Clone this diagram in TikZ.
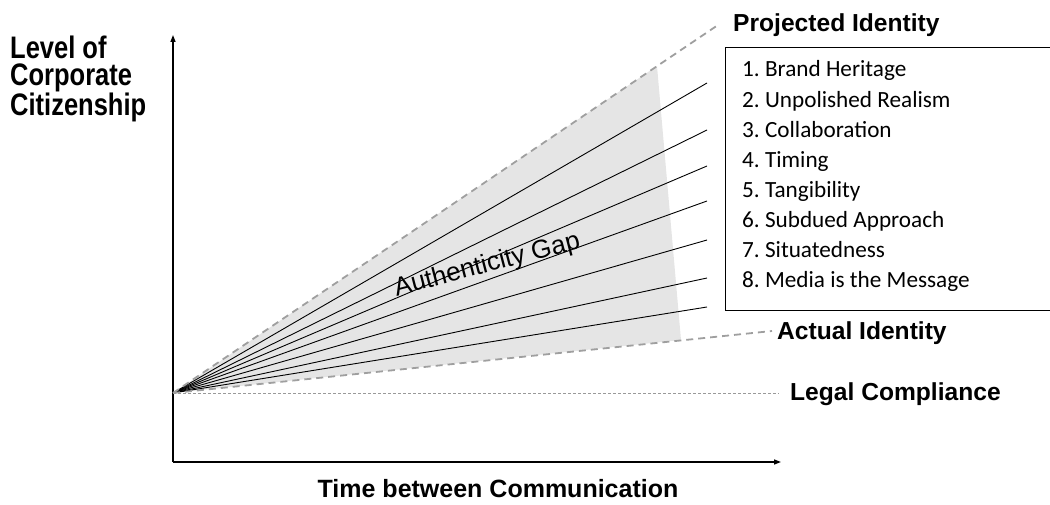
\documentclass[tikz,border=0pt]{standalone}
\usepackage{fontspec}
\setmainfont{Liberation Sans}
\newfontfamily\listfont{Carlito}
\usetikzlibrary{arrows.meta}
\tikzset{
  axis/.style={line width=1.4pt, -{Triangle[length=7pt,width=5pt]}},
  identity/.style={draw=gray!75, line width=1.8pt, dash pattern=on 7pt off 5pt},
  legal/.style={draw=gray!80, line width=1pt, dash pattern=on 3pt off 2pt},
  factor/.style={line width=0.9pt},
  lbl/.style={font=\fontsize{24.6}{26}\selectfont\bfseries, inner sep=0pt},
  item/.style={font=\listfont\fontsize{23.2}{25}\selectfont, anchor=base west, inner sep=0pt}
}
\begin{document}
\begin{tikzpicture}[x=1pt, y=-1pt]
\useasboundingbox (0,0) rectangle (1050,505);
% axes
\coordinate (O) at (173,393);
\coordinate (corner) at (173,462);
\coordinate (ytip) at (173,35);
\coordinate (xtip) at (781,462);
\draw[axis] (corner) -- (ytip);
\draw[axis] (corner) -- (xtip);
% gap area
\coordinate (gaptop) at (657,66);
\coordinate (gapbot) at (681,340);
\fill[black!10] (O) -- (gaptop) -- (gapbot) -- cycle;
% factor lines
\foreach \y [count=\i] in {83,130,166,201,240,278,307}
  \coordinate (f\i) at (707,\y);
\foreach \i in {1,...,7}
  \draw[factor] (O) -- (f\i);
% labels and reference lines
\node[lbl, anchor=base west] (projected) at (733,32) {Projected Identity};
\node[lbl, anchor=base west] (actual) at (777,339) {Actual Identity};
\node[lbl, anchor=base west] (legal) at (790,400) {Legal Compliance};
\coordinate (pend) at (718,25);
\coordinate (aend) at (772,331);
\coordinate (lend) at (779,393);
\draw[identity] (O) -- (pend);
\draw[identity] (O) -- (aend);
\draw[legal] (O) -- (lend);
\node[font=\fontsize{26}{28}\selectfont, anchor=base, inner sep=0pt, rotate=14.6] (gap) at (489,272) {Authenticity Gap};
\node[lbl, anchor=north west, align=left, yscale=1.22, font=\fontsize{25.5}{21.6}\selectfont\bfseries] (ylabel) at (10,36) {Level of\\Corporate\\Citizenship};
\node[lbl, anchor=base, font=\fontsize{25}{27}\selectfont\bfseries] (xlabel) at (498,497) {Time between Communication};
% list of factors
\draw[line width=1pt] (1051,48) -- (725,48) -- (725,310) -- (1051,310);
\foreach \t [count=\i] in {Brand Heritage, Unpolished Realism, Collaboration, Timing, Tangibility, Subdued Approach, Situatedness, Media is the Message}
  \node[item] (item\i) at (742,{77+30.1*(\i-1)}) {\i.\ \t};
\end{tikzpicture}
\end{document}
